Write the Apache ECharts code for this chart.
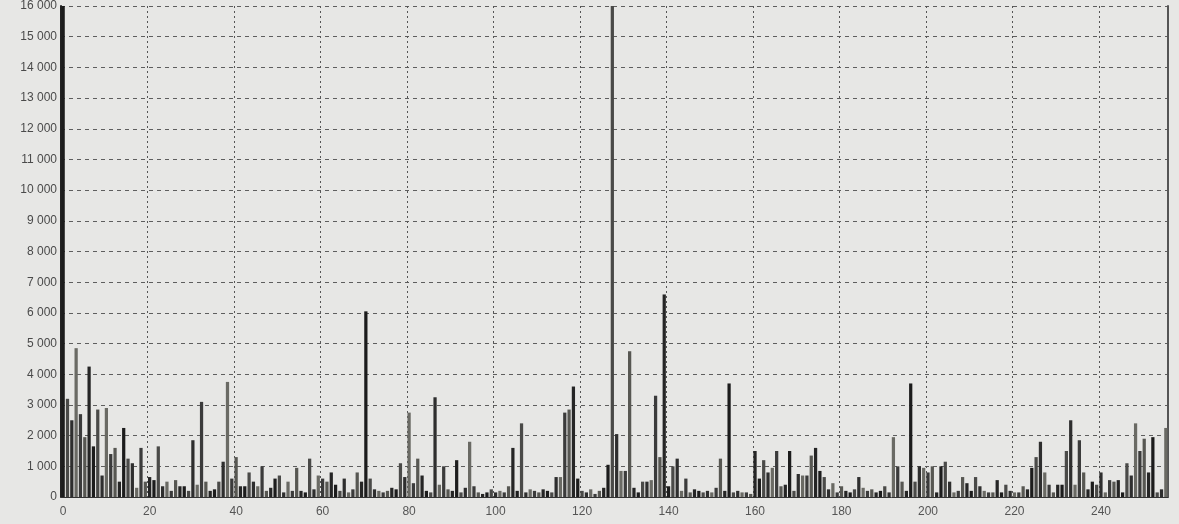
<!DOCTYPE html>
<html>
<head>
<meta charset="utf-8">
<script src="https://cdn.jsdelivr.net/npm/echarts@6/dist/echarts.min.js"></script>
<style>
  html, body { margin: 0; padding: 0; background: #e7e7e5; }
  #hist { width: 1179px; height: 524px; }
</style>
</head>
<body>
<div id="hist"></div>
<script>
// histogram counts, one per grey level 0..255 (0 and 127 run off the top)
var counts = [
    40000, 3200, 2500, 4850, 2700, 1950, 4250, 1650, 2850, 700, 2900, 1400, 1600, 500, 2250, 1250, 1100, 300, 1600, 500,
    650, 550, 1650, 350, 500, 200, 550, 350, 350, 200, 1850, 400, 3100, 500, 200, 250, 500, 1150, 3750, 600,
    1300, 350, 350, 800, 500, 350, 1000, 200, 300, 600, 700, 150, 500, 200, 950, 200, 150, 1250, 250, 700,
    600, 500, 800, 400, 200, 600, 150, 250, 800, 500, 6050, 600, 250, 200, 150, 200, 300, 250, 1100, 650,
    2750, 450, 1250, 700, 200, 150, 3250, 400, 1000, 250, 200, 1200, 150, 300, 1800, 350, 150, 100, 150, 250,
    150, 200, 150, 350, 1600, 200, 2400, 150, 250, 200, 150, 250, 200, 150, 650, 650, 2750, 2850, 3600, 600,
    200, 150, 250, 100, 200, 300, 1050, 40000, 2050, 850, 850, 4750, 300, 150, 500, 500, 550, 3300, 1300, 6600,
    350, 1000, 1250, 200, 600, 150, 250, 200, 150, 200, 150, 300, 1250, 200, 3700, 150, 200, 150, 150, 100,
    1500, 600, 1200, 800, 950, 1500, 350, 400, 1500, 200, 750, 700, 700, 1350, 1600, 850, 650, 250, 450, 150,
    350, 200, 150, 250, 650, 300, 200, 250, 150, 200, 350, 150, 1950, 1000, 500, 200, 3700, 500, 1000, 950,
    800, 1000, 150, 1000, 1150, 500, 150, 200, 650, 450, 200, 650, 350, 200, 150, 150, 550, 150, 400, 200,
    150, 150, 350, 250, 950, 1300, 1800, 800, 400, 150, 400, 400, 1500, 2500, 400, 1850, 800, 250, 500, 400,
    800, 150, 550, 500, 550, 150, 1100, 700, 2400, 1500, 1900, 800, 1950, 150, 250, 2250
];
var levels = counts.map(function (c, i) { return String(i); });
var yMax = 16000;
var yStep = 1000;

var shades = ['#1c1c1c', '#4a4a48', '#2e2e2e', '#6a6a64', '#3b3b3b', '#575752', '#252525'];

var option = {
    backgroundColor: '#e7e7e5',
    animation: false,
    grid: { left: 61, right: 11, top: -2, bottom: 27 },
    xAxis: {
        type: 'category',
        data: levels,
        boundaryGap: true,
        axisLine: { lineStyle: { color: '#333', width: 1 } },
        axisTick: { show: false },
        axisLabel: {
            interval: 19,
            margin: 9,
            color: '#555',
            fontFamily: 'Liberation Sans',
            fontSize: 12
        },
        splitLine: {
            show: true,
            interval: 19,
            lineStyle: { color: '#555', type: [2, 3], width: 1 }
        }
    },
    yAxis: [{
        type: 'value',
        min: 0,
        max: yMax,
        interval: yStep,
        axisLine: { show: true, lineStyle: { color: '#222', width: 2 } },
        axisTick: { show: false },
        axisLabel: {
            margin: 4,
            color: '#4a4a4a',
            fontFamily: 'Liberation Sans',
            fontSize: 12,
            formatter: function (v) {
                return v >= 1000 ? Math.floor(v / 1000) + ' 000' : String(v);
            }
        },
        splitLine: { lineStyle: { color: '#5e5e5e', type: [4, 4], width: 1 } }
    }, {
        type: 'value',
        position: 'right',
        min: 0,
        max: yMax,
        interval: yStep,
        axisLine: { show: true, lineStyle: { color: '#555', width: 2 } },
        axisTick: { show: false },
        axisLabel: { show: false },
        splitLine: { show: false }
    }],
    series: [{
        type: 'bar',
        data: counts,
        clip: true,
        barCategoryGap: '25%',
        itemStyle: {
            color: function (p) { return shades[p.dataIndex % shades.length]; }
        }
    }]
};

var hist = echarts.init(document.getElementById('hist'));
hist.setOption(option);
</script>
</body>
</html>
